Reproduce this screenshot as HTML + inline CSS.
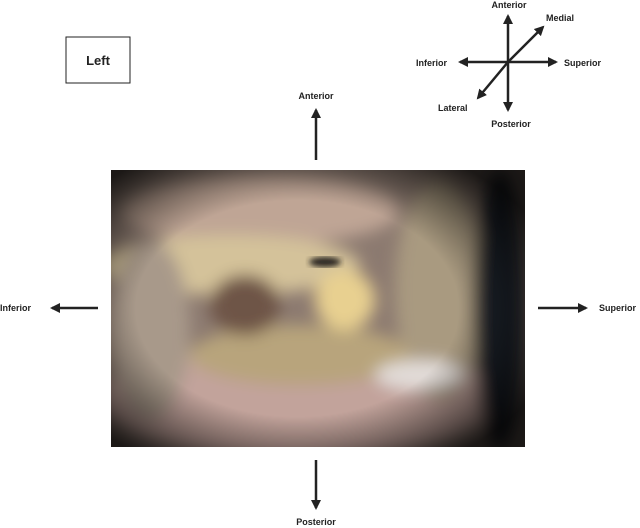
<!DOCTYPE html>
<html><head><style>
body{margin:0;background:#fff;}
svg{display:block}
text{font-family:"Liberation Sans",sans-serif;font-weight:bold;fill:#222}
</style></head><body>
<svg width="640" height="528" viewBox="0 0 640 528">
<defs>
<marker id="a" viewBox="0 0 10 10" refX="8" refY="5" markerWidth="4" markerHeight="4" orient="auto"><path d="M0,0L10,5L0,10z" fill="#222"/></marker>
<filter id="b" x="-20%" y="-20%" width="140%" height="140%"><feGaussianBlur stdDeviation="8"/></filter>
<filter id="c"><feGaussianBlur stdDeviation="3"/></filter>
<clipPath id="cl"><rect x="111" y="170" width="414" height="277"/></clipPath>
<radialGradient id="v" cx="0.45" cy="0.5" r="0.65"><stop offset="0.6" stop-color="#000" stop-opacity="0"/><stop offset="1" stop-color="#000" stop-opacity="0.8"/></radialGradient>
</defs>
<rect x="66" y="37" width="64" height="46" fill="none" stroke="#222" stroke-width="1"/>
<text x="98" y="65" font-size="13" text-anchor="middle">Left</text>
<g clip-path="url(#cl)">
<rect x="111" y="170" width="414" height="277" fill="#8c7a70"/>
<g filter="url(#b)">
<ellipse cx="300" cy="400" rx="200" ry="60" fill="#c2a39b"/>
<ellipse cx="260" cy="210" rx="140" ry="35" fill="#bfa595"/>
<ellipse cx="230" cy="265" rx="130" ry="30" fill="#d4c29a"/>
<ellipse cx="440" cy="290" rx="45" ry="110" fill="#a99a80"/>
<ellipse cx="300" cy="355" rx="110" ry="30" fill="#b8a47c"/>
<ellipse cx="345" cy="300" rx="30" ry="30" fill="#e8d090"/>
<ellipse cx="245" cy="305" rx="35" ry="30" fill="#6e5446"/>
<ellipse cx="150" cy="330" rx="40" ry="90" fill="#a8998a"/>
<ellipse cx="420" cy="375" rx="45" ry="15" fill="#e2dcd8"/>
<ellipse cx="500" cy="310" rx="25" ry="140" fill="#1c222a"/>
</g>
<ellipse cx="325" cy="262" rx="16" ry="5" fill="#2a2522" filter="url(#c)"/>
<rect x="111" y="170" width="414" height="277" fill="url(#v)"/>
</g>
<g stroke="#222" stroke-width="2.5" marker-end="url(#a)">
<line x1="316" y1="160" x2="316" y2="110"/>
<line x1="316" y1="460" x2="316" y2="508"/>
<line x1="98" y1="308" x2="52" y2="308"/>
<line x1="538" y1="308" x2="586" y2="308"/>
<line x1="508" y1="62" x2="508" y2="16"/>
<line x1="508" y1="62" x2="508" y2="110"/>
<line x1="508" y1="62" x2="460" y2="62"/>
<line x1="508" y1="62" x2="556" y2="62"/>
<line x1="508" y1="62" x2="543" y2="27"/>
<line x1="508" y1="62" x2="478" y2="98"/>
</g>
<g font-size="9">
<text x="316" y="99" text-anchor="middle">Anterior</text>
<text x="316" y="525" text-anchor="middle">Posterior</text>
<text x="0" y="311">Inferior</text>
<text x="599" y="311">Superior</text>
<text x="509" y="8" text-anchor="middle">Anterior</text>
<text x="546" y="21">Medial</text>
<text x="416" y="66">Inferior</text>
<text x="564" y="66">Superior</text>
<text x="438" y="111">Lateral</text>
<text x="511" y="127" text-anchor="middle">Posterior</text>
</g>
</svg>
</body></html>
